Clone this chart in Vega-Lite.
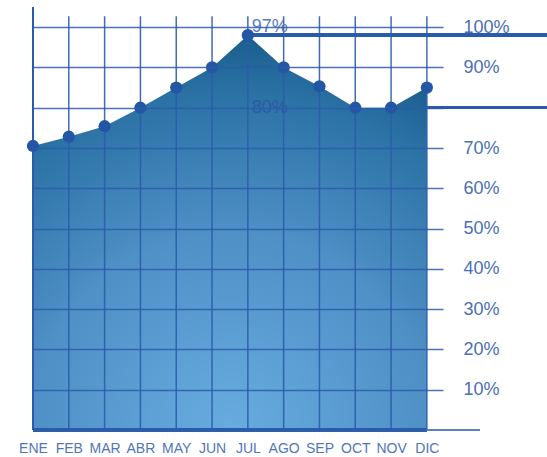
{
  "$schema": "https://vega.github.io/schema/vega-lite/v6.json",
  "width": 410,
  "height": 423,
  "autosize": {"type": "none"},
  "padding": {"left": 33, "top": 7, "right": 104, "bottom": 27},
  "background": "white",
  "config": {"view": {"stroke": null}, "font": "Liberation Sans"},
  "datasets": {
    "meses": [
      {"mes": "ENE", "n": 1, "pct": 70.5},
      {"mes": "FEB", "n": 2, "pct": 72.8},
      {"mes": "MAR", "n": 3, "pct": 75.4},
      {"mes": "ABR", "n": 4, "pct": 80},
      {"mes": "MAY", "n": 5, "pct": 85},
      {"mes": "JUN", "n": 6, "pct": 90},
      {"mes": "JUL", "n": 7, "pct": 98},
      {"mes": "AGO", "n": 8, "pct": 90},
      {"mes": "SEP", "n": 9, "pct": 85.3},
      {"mes": "OCT", "n": 10, "pct": 80},
      {"mes": "NOV", "n": 11, "pct": 80},
      {"mes": "DIC", "n": 12, "pct": 85}
    ],
    "notas": [
      {"n": 7, "pct": 100, "texto": "97%", "tipo": "max"},
      {"n": 7, "pct": 80, "texto": "80%", "tipo": "min"}
    ]
  },
  "data": {"name": "meses"},
  "encoding": {
    "x": {
      "field": "n",
      "type": "quantitative",
      "scale": {"domain": [1, 12.45], "nice": false, "zero": false},
      "axis": {
        "values": [1, 2, 3, 4, 5, 6, 7, 8, 9, 10, 11, 12],
        "labelExpr": "['ENE','FEB','MAR','ABR','MAY','JUN','JUL','AGO','SEP','OCT','NOV','DIC'][datum.value - 1]",
        "grid": false,
        "ticks": false,
        "domain": false,
        "title": null,
        "labelFontSize": 14,
        "labelColor": "#4f76bb",
        "labelPadding": 11,
        "labelDx": 4,
        "labelFlush": false,
        "labelOverlap": false
      }
    },
    "y": {
      "field": "pct",
      "type": "quantitative",
      "scale": {"domain": [0, 105], "nice": false},
      "axis": {
        "orient": "right",
        "values": [10, 20, 30, 40, 50, 60, 70, 80, 90, 100],
        "labelExpr": "datum.value == 80 ? '' : datum.value + '%'",
        "grid": true,
        "gridColor": "#2b5cab",
        "gridOpacity": 0.85,
        "gridWidth": 1.5,
        "ticks": false,
        "domain": false,
        "title": null,
        "labelFontSize": 18,
        "labelColor": "#4a6fb6",
        "labelPadding": 20,
        "labelAlign": "left",
        "zindex": 1
      }
    }
  },
  "layer": [
    {
      "mark": {
        "type": "area",
        "interpolate": "linear",
        "color": {
          "gradient": "radial",
          "x1": 0.5, "y1": 1, "r1": 0,
          "x2": 0.5, "y2": 1, "r2": 1,
          "stops": [
            {"offset": 0, "color": "#68acdf"},
            {"offset": 0.5, "color": "#4f90c6"},
            {"offset": 0.85, "color": "#2b72a5"},
            {"offset": 1, "color": "#1b5e8e"}
          ]
        }
      }
    },
    {
      "mark": {"type": "rule", "color": "#2b5cab", "strokeWidth": 1.5, "opacity": 0.9},
      "encoding": {
        "y": {"datum": 0},
        "y2": {"datum": 102.7}
      }
    },
    {
      "mark": {"type": "rule", "color": "#2b5cab", "strokeWidth": 2},
      "encoding": {
        "x": {"datum": 1},
        "y": {"datum": 0},
        "y2": {"datum": 105}
      }
    },
    {
      "mark": {"type": "rule", "color": "#2b5cab", "strokeWidth": 2.5},
      "encoding": {
        "x": {"datum": 1},
        "x2": {"datum": 12},
        "y": {"datum": 0}
      }
    },
    {
      "mark": {"type": "rule", "color": "#5c7fc2", "strokeWidth": 1.5},
      "encoding": {
        "x": {"datum": 12},
        "x2": {"datum": 13.48},
        "y": {"datum": 0}
      }
    },
    {
      "mark": {"type": "rule", "color": "#2a5aab", "strokeWidth": 2},
      "encoding": {
        "x": {"datum": 12},
        "x2": {"datum": 15.4},
        "y": {"datum": 80}
      }
    },
    {
      "mark": {"type": "rule", "color": "#2a5aab", "strokeWidth": 3},
      "encoding": {
        "x": {"datum": 7},
        "x2": {"datum": 15.4},
        "y": {"datum": 98}
      }
    },
    {
      "mark": {"type": "point", "filled": true, "color": "#2456a6", "size": 150, "opacity": 1}
    },
    {
      "data": {"name": "notas"},
      "mark": {"type": "text", "align": "left", "baseline": "middle", "dx": 4, "fontSize": 18},
      "encoding": {
        "text": {"field": "texto"},
        "color": {
          "field": "tipo",
          "type": "nominal",
          "scale": {"domain": ["max", "min"], "range": ["#5a7cc0", "#2c5aa6"]},
          "legend": null
        }
      }
    }
  ]
}
